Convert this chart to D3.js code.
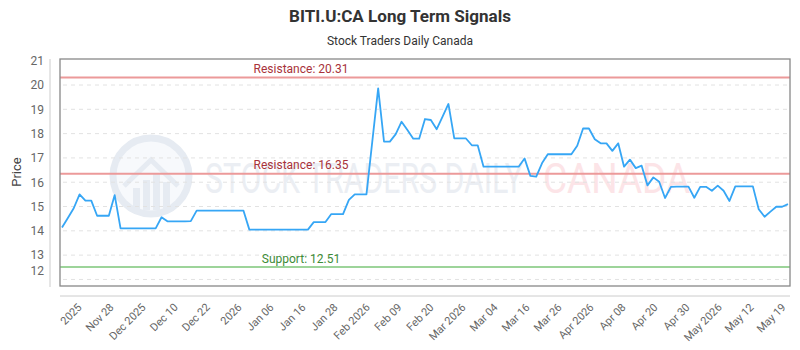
<!DOCTYPE html>
<html>
<head>
<meta charset="utf-8">
<script src="https://cdn.jsdelivr.net/npm/d3@7/dist/d3.min.js"></script>
<style>
  body { margin: 0; background: #fff; }
  svg text { font-family: Roboto, "Open Sans", sans-serif; }
</style>
</head>
<body>
<div id="chart"></div>
<script>
// closing prices, one per trading day
const prices = [
  14.14, 14.53, 14.93, 15.50, 15.24, 15.24, 14.62, 14.62, 14.62, 15.47,
  14.10, 14.10, 14.10, 14.10, 14.10, 14.10, 14.10, 14.56, 14.39, 14.39,
  14.39, 14.39, 14.40, 14.83, 14.83, 14.83, 14.83, 14.83, 14.83, 14.83,
  14.83, 14.83, 14.05, 14.05, 14.05, 14.05, 14.05, 14.05, 14.05, 14.05,
  14.05, 14.05, 14.05, 14.36, 14.36, 14.36, 14.69, 14.69, 14.69, 15.27,
  15.50, 15.50, 15.50, 17.68, 19.86, 17.67, 17.67, 17.98, 18.49, 18.15,
  17.79, 17.79, 18.60, 18.56, 18.18, 18.70, 19.22, 17.80, 17.80, 17.80,
  17.52, 17.52, 16.64, 16.64, 16.64, 16.64, 16.64, 16.64, 16.64, 16.98,
  16.26, 16.23, 16.79, 17.16, 17.15, 17.15, 17.15, 17.15, 17.50, 18.21,
  18.21, 17.77, 17.60, 17.60, 17.29, 17.60, 16.64, 16.93, 16.58, 16.68,
  15.87, 16.20, 16.02, 15.35, 15.81, 15.82, 15.82, 15.82, 15.36, 15.81,
  15.81, 15.65, 15.86, 15.65, 15.23, 15.83, 15.83, 15.83, 15.83, 14.89,
  14.58, 14.79, 14.99, 14.99, 15.10
];

const tickLabels = [
  "2025", "Nov 28", "Dec 2025", "Dec 10", "Dec 22", "2026", "Jan 06", "Jan 16",
  "Jan 28", "Feb 2026", "Feb 09", "Feb 20", "Mar 2026", "Mar 04", "Mar 16",
  "Mar 26", "Apr 2026", "Apr 08", "Apr 20", "Apr 30", "May 2026", "May 12", "May 19"
];

const yTicks = [12, 13, 14, 15, 16, 17, 18, 19, 20, 21];

const levelNames = ["Resistance", "Resistance", "Support"];
const levelValues = [20.31, 16.35, 12.51];

const width = 800, height = 350;
const plot = { left: 60, right: 790, top: 59, bottom: 286 };

const svg = d3.select("#chart")
  .append("svg")
    .attr("width", width)
    .attr("height", height);

// title
svg.append("text")
  .attr("x", 400).attr("y", 22)
  .attr("text-anchor", "middle")
  .attr("font-size", 17).attr("font-weight", "bold")
  .attr("fill", "#333")
  .attr("textLength", 222).attr("lengthAdjust", "spacingAndGlyphs")
  .text("BITI.U:CA Long Term Signals");

svg.append("text")
  .attr("x", 400).attr("y", 45)
  .attr("text-anchor", "middle")
  .attr("font-size", 12)
  .attr("fill", "#333")
  .text("Stock Traders Daily Canada");

// scales
const x = d3.scaleLinear()
  .domain([0, prices.length - 1])
  .range([plot.left + 2, plot.right - 2]);

const y = d3.scaleLinear()
  .domain([11.73, 21.07])
  .range([plot.bottom, plot.top]);

const xTick = d3.scalePoint()
  .domain(tickLabels)
  .range([82, 786]);

// watermark
const wm = svg.append("g").attr("class", "watermark");
wm.append("circle")
  .attr("cx", 151).attr("cy", 176).attr("r", 38)
  .attr("fill", "#f7f9fc").attr("stroke", "#e6ebf2").attr("stroke-width", 7);
wm.append("path")
  .attr("d", "M124,186 L151,160 L178,186")
  .attr("fill", "none").attr("stroke", "#e6ebf2").attr("stroke-width", 5);
wm.selectAll("rect.wbar")
  .data([22, 30, 36, 28])
  .enter().append("rect")
    .attr("class", "wbar")
    .attr("x", (d, i) => 133 + i * 10)
    .attr("y", d => 210 - d)
    .attr("width", 7)
    .attr("height", d => d)
    .attr("fill", "#e6ebf2");
wm.append("text")
  .attr("x", 205).attr("y", 193)
  .attr("font-size", 42)
  .attr("fill", "#ebeef3")
  .attr("textLength", 318).attr("lengthAdjust", "spacingAndGlyphs")
  .text("STOCK TRADERS DAILY");
wm.append("text")
  .attr("x", 543).attr("y", 193)
  .attr("font-size", 42)
  .attr("fill", "#fce4e7")
  .attr("textLength", 147).attr("lengthAdjust", "spacingAndGlyphs")
  .text("CANADA");

// grid lines
svg.append("g")
  .selectAll("line")
  .data(yTicks.filter(t => t < 21))
  .enter().append("line")
    .attr("x1", plot.left + 3).attr("x2", plot.right - 3)
    .attr("y1", d => y(d)).attr("y2", d => y(d))
    .attr("stroke", "#e2e2e2")
    .attr("stroke-dasharray", "4,4");

// y axis
const yAxis = svg.append("g")
  .attr("transform", "translate(50,0)")
  .call(d3.axisLeft(y).tickValues(yTicks).tickSize(0).tickPadding(6));
yAxis.select(".domain")
  .attr("d", `M0,${plot.top}V${plot.bottom + 1}`)
  .attr("stroke", "#ccc");
yAxis.selectAll("text")
  .attr("font-size", 12)
  .attr("font-family", "Roboto, sans-serif")
  .attr("fill", "#666")
  .attr("dy", d => d === 12 ? "-0.45em" : "0.32em");

svg.append("text")
  .attr("transform", "translate(21,172)rotate(-90)")
  .attr("text-anchor", "middle")
  .attr("font-size", 13)
  .attr("fill", "#444")
  .text("Price");

// x axis
const xAxis = svg.append("g")
  .attr("transform", "translate(0,296)")
  .call(d3.axisBottom(xTick).tickSize(0).tickPadding(0));
xAxis.select(".domain")
  .attr("d", `M${plot.left},0H${plot.right}`)
  .attr("stroke", "#ccc");
xAxis.selectAll("text")
  .attr("font-size", 11)
  .attr("font-family", "'Open Sans', sans-serif")
  .attr("fill", "#666")
  .attr("text-anchor", "end")
  .attr("dy", 0)
  .attr("transform", "translate(0,12)rotate(-45)");

// support / resistance levels
const levels = levelValues.map((v, i) => ({ name: levelNames[i], value: v }));
const lv = svg.append("g").selectAll("g")
  .data(levels)
  .enter().append("g");
lv.append("line")
  .attr("x1", plot.left).attr("x2", plot.right)
  .attr("y1", d => y(d.value)).attr("y2", d => y(d.value))
  .attr("stroke", d => d.name === "Support" ? "#9dd49a" : "#ec9a9a")
  .attr("stroke-width", 2);
lv.append("text")
  .attr("x", 301)
  .attr("y", d => y(d.value) - 4.5)
  .attr("text-anchor", "middle")
  .attr("font-size", 12)
  .attr("fill", d => d.name === "Support" ? "#3d8b37" : "#a8323a")
  .text(d => d.name + ": " + d.value.toFixed(2));

// price line
svg.append("path")
  .datum(prices)
  .attr("fill", "none")
  .attr("stroke", "#36a6f5")
  .attr("stroke-width", 1.8)
  .attr("stroke-linejoin", "round")
  .attr("d", d3.line().x((d, i) => x(i)).y(d => y(d)));

// plot border
svg.append("rect")
  .attr("x", plot.left).attr("y", plot.top)
  .attr("width", plot.right - plot.left)
  .attr("height", plot.bottom - plot.top)
  .attr("fill", "none")
  .attr("stroke", "#888")
  .attr("stroke-width", 1.3);
</script>
</body>
</html>
